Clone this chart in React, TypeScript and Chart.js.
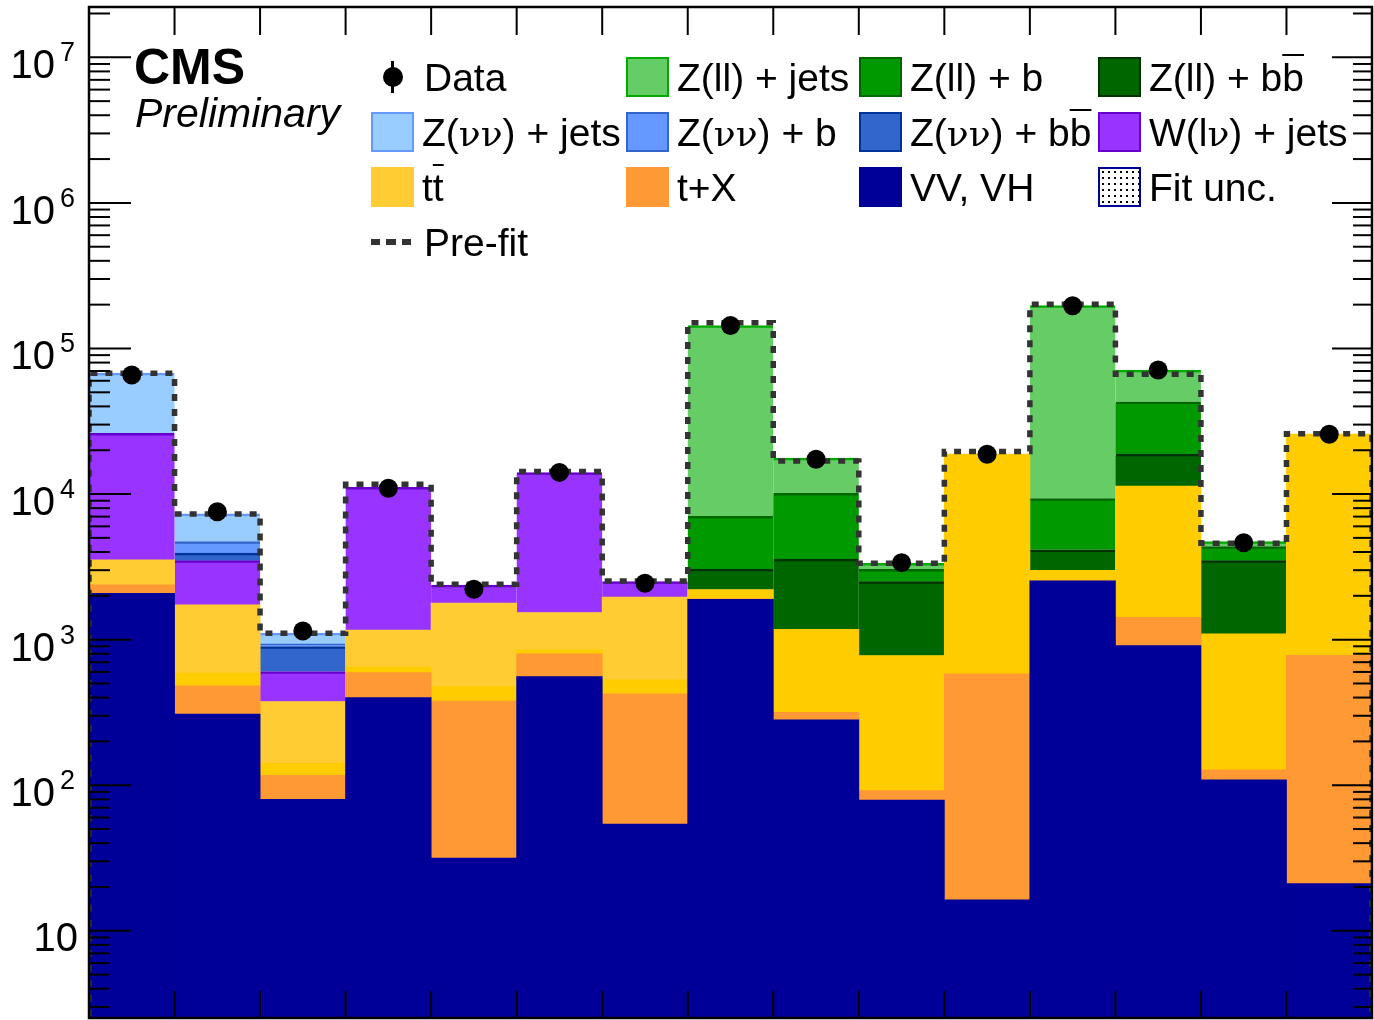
import React, { useEffect, useRef } from "react";
import { Chart, registerables } from "chart.js";

Chart.register(...registerables);

// ---------------- data ----------------
const binLabels = ["1", "2", "3", "4", "5", "6", "7", "8", "9", "10", "11", "12", "13", "14", "15"];

const vvVH = [2080, 308, 80, 399, 31.5, 557, 54, 1893, 281, 79, 16.3, 2530, 908, 108.7, 21.1];
const tPlusX = [293, 173, 37, 194, 347, 240, 370, 10, 36, 12.6, 565, 10, 514, 18.7, 759];
const ttDeep = [0, 107, 24, 53, 96, 52, 104, 299, 861, 684, 18250, 446, 9928, 967, 24980];
const ttLight = [1150, 1142, 234, 518, 1303, 682, 1427, 0, 0, 0, 0, 0, 0, 0, 0];
const wlnJets = [22600, 1755, 228, 9956, 594, 12500, 546, 0, 0, 0, 0, 0, 0, 0, 0];
const zvvBB = [0, 435, 293, 0, 0, 0, 0, 0, 0, 0, 0, 0, 0, 0, 0];
const zvvB = [0, 790, 37, 0, 0, 0, 0, 0, 0, 0, 0, 0, 0, 0, 0];
const zvvJets = [41500, 2585, 174, 0, 0, 0, 0, 0, 0, 0, 0, 0, 0, 0, 0];
const zllBB = [0, 0, 0, 0, 0, 0, 0, 849, 2387, 1724, 0, 1154, 7480, 2391, 0];
const zllB = [0, 0, 0, 0, 0, 0, 0, 3960, 6555, 540, 0, 5160, 24170, 865, 0];
const zllJets = [0, 0, 0, 0, 0, 0, 0, 136600, 7500, 303, 0, 187500, 28100, 361, 0];

const dataObs = [65800, 7550, 1146, 10970, 2220, 14090, 2438, 144000, 17340, 3380, 18780, 196800, 71100, 4636, 25760];
const preFit = [67600, 7295, 1107, 11670, 2404, 14260, 2530, 150300, 16870, 3343, 19590, 201400, 66500, 4590, 25940];

const yTickExponents = [1, 2, 3, 4, 5, 6, 7];

// ---------------- styles ----------------
const Y_MIN = 2.518;
const Y_MAX = 2.216e7;
const SANS = '"Liberation Sans", Arial, Helvetica, sans-serif';
const SERIF = '"DejaVu Serif", "Liberation Serif", "Times New Roman", serif';

const C = {
  vv: "#000099",
  tx: "#FF9933",
  ttDeep: "#FFCC00",
  ttLight: "#FFCC33",
  w: "#9933FF",
  wLine: "#6600CC",
  zvvBB: "#3366CC",
  zvvBBLine: "#003399",
  zvvB: "#6699FF",
  zvvBLine: "#3366CC",
  zvvJ: "#99CCFF",
  zvvJLine: "#6699FF",
  zllBB: "#006600",
  zllBBLine: "#003300",
  zllB: "#009900",
  zllBLine: "#006600",
  zllJ: "#66CC66",
  zllJLine: "#00AA00",
};

const stackDefs = [
  { label: "VV, VH", values: vvVH, color: C.vv, line: C.vv, bw: 0 },
  { label: "t+X", values: tPlusX, color: C.tx, line: C.tx, bw: 0 },
  { label: "tt (b)", values: ttDeep, color: C.ttDeep, line: C.ttDeep, bw: 0 },
  { label: "tt", values: ttLight, color: C.ttLight, line: C.ttLight, bw: 0 },
  { label: "W(lv) + jets", values: wlnJets, color: C.w, line: C.wLine, bw: 2.5 },
  { label: "Z(vv) + bb", values: zvvBB, color: C.zvvBB, line: C.zvvBBLine, bw: 2.5 },
  { label: "Z(vv) + b", values: zvvB, color: C.zvvB, line: C.zvvBLine, bw: 2.5 },
  { label: "Z(vv) + jets", values: zvvJets, color: C.zvvJ, line: C.zvvJLine, bw: 2.5 },
  { label: "Z(ll) + bb", values: zllBB, color: C.zllBB, line: C.zllBBLine, bw: 2.5 },
  { label: "Z(ll) + b", values: zllB, color: C.zllB, line: C.zllBLine, bw: 2.5 },
  { label: "Z(ll) + jets", values: zllJets, color: C.zllJ, line: C.zllJLine, bw: 2.5 },
];

// ---------------- axis / frame plugin (ROOT style) ----------------
const rootAxes = {
  id: "rootAxes",
  afterDatasetsDraw(chart: any) {
    const { ctx, chartArea: a, scales } = chart;
    const y = scales.y;
    const xl = scales.xl;
    const seg = (x1: number, y1: number, x2: number, y2: number) => {
      ctx.beginPath();
      ctx.moveTo(x1, y1);
      ctx.lineTo(x2, y2);
      ctx.stroke();
    };
    ctx.save();
    ctx.strokeStyle = "#000";
    ctx.lineWidth = 2;
    for (let e = 0; e <= 8; e++) {
      for (let m = 1; m <= 9; m++) {
        const v = m * Math.pow(10, e);
        if (v < y.min || v > y.max) continue;
        const py = y.getPixelForValue(v);
        const major = m === 1;
        seg(a.left, py, a.left + (major ? 42 : 21), py);
        seg(a.right, py, a.right - (major ? 40 : 19), py);
      }
    }
    for (let i = 1; i < binLabels.length; i++) {
      const px = xl.getPixelForValue(i);
      seg(px, a.top, px, a.top + 28);
      seg(px, a.bottom, px, a.bottom - 27);
    }
    ctx.lineWidth = 2.5;
    ctx.strokeRect(a.left, a.top, a.right - a.left, a.bottom - a.top);

    ctx.fillStyle = "#000";
    ctx.textBaseline = "alphabetic";
    for (const e of yTickExponents) {
      const py = y.getPixelForValue(Math.pow(10, e));
      ctx.font = `40px ${SANS}`;
      ctx.textAlign = "right";
      if (e === 1) {
        ctx.fillText("10", a.left - 11, py + 20);
      } else {
        ctx.fillText("10", a.left - 34, py + 21);
        ctx.font = `27px ${SANS}`;
        ctx.textAlign = "left";
        ctx.fillText(String(e), a.left - 29, py + 4);
      }
    }
    ctx.restore();
  },
};

// ---------------- legend helpers ----------------
const Nu = () => <span style={{ fontFamily: SERIF, fontSize: 36 }}>ν</span>;
const Ob = ({ children }: { children: React.ReactNode }) => (
  <span style={{ textDecoration: "overline", textDecorationThickness: "2px" }}>{children}</span>
);

const LEG_FS = 39;
const rowY = [77, 132, 187, 242];
const colX = [371, 626, 859, 1098];

function Swatch({ x, y, fill, border, dotted }: { x: number; y: number; fill: string; border: string; dotted?: boolean }) {
  return (
    <div
      style={{
        position: "absolute",
        left: x,
        top: y - 20,
        width: 43,
        height: 40,
        boxSizing: "border-box",
        background: fill,
        border: `2px solid ${border}`,
        backgroundImage: dotted ? "radial-gradient(#000 0.9px, transparent 1.2px)" : undefined,
        backgroundSize: dotted ? "6px 6px" : undefined,
      }}
    />
  );
}

function Label({ x, y, children }: { x: number; y: number; children: React.ReactNode }) {
  return (
    <div
      style={{
        position: "absolute",
        left: x,
        top: y - 19,
        fontFamily: SANS,
        fontSize: LEG_FS,
        lineHeight: `${LEG_FS}px`,
        whiteSpace: "nowrap",
        color: "#000",
      }}
    >
      {children}
    </div>
  );
}

function Legend() {
  const tx = (c: number) => colX[c] + 51;
  return (
    <>
      {/* Data marker */}
      <div style={{ position: "absolute", left: 391, top: rowY[0] - 16, width: 3, height: 32, background: "#000" }} />
      <div style={{ position: "absolute", left: 383, top: rowY[0] - 10, width: 20, height: 20, borderRadius: 10, background: "#000" }} />
      <Label x={424} y={rowY[0]}>Data</Label>

      <Swatch x={colX[1]} y={rowY[0]} fill={C.zllJ} border={C.zllJLine} />
      <Label x={tx(1)} y={rowY[0]}>Z(ll) + jets</Label>
      <Swatch x={colX[2]} y={rowY[0]} fill={C.zllB} border={C.zllBLine} />
      <Label x={tx(2)} y={rowY[0]}>Z(ll) + b</Label>
      <Swatch x={colX[3]} y={rowY[0]} fill={C.zllBB} border={C.zllBBLine} />
      <Label x={tx(3)} y={rowY[0]}>Z(ll) + b<Ob>b</Ob></Label>

      <Swatch x={colX[0]} y={rowY[1]} fill={C.zvvJ} border={C.zvvJLine} />
      <Label x={tx(0)} y={rowY[1]}>Z(<Nu /><Nu />) + jets</Label>
      <Swatch x={colX[1]} y={rowY[1]} fill={C.zvvB} border={C.zvvBLine} />
      <Label x={tx(1)} y={rowY[1]}>Z(<Nu /><Nu />) + b</Label>
      <Swatch x={colX[2]} y={rowY[1]} fill={C.zvvBB} border={C.zvvBBLine} />
      <Label x={tx(2)} y={rowY[1]}>Z(<Nu /><Nu />) + b<Ob>b</Ob></Label>
      <Swatch x={colX[3]} y={rowY[1]} fill={C.w} border={C.wLine} />
      <Label x={tx(3)} y={rowY[1]}>W(l<Nu />) + jets</Label>

      <Swatch x={colX[0]} y={rowY[2]} fill={C.ttLight} border={C.ttLight} />
      <Label x={tx(0)} y={rowY[2]}>t<Ob>t</Ob></Label>
      <Swatch x={colX[1]} y={rowY[2]} fill={C.tx} border={C.tx} />
      <Label x={tx(1)} y={rowY[2]}>t+X</Label>
      <Swatch x={colX[2]} y={rowY[2]} fill={C.vv} border={C.vv} />
      <Label x={tx(2)} y={rowY[2]}>VV, VH</Label>
      <Swatch x={colX[3]} y={rowY[2]} fill="#FFFFFF" border={C.vv} dotted />
      <Label x={tx(3)} y={rowY[2]}>Fit unc.</Label>

      <div
        style={{
          position: "absolute",
          left: 371,
          top: rowY[3] - 3,
          width: 40,
          height: 6,
          background: "repeating-linear-gradient(90deg, #333 0 9px, transparent 9px 15.5px)",
        }}
      />
      <Label x={424} y={rowY[3]}>Pre-fit</Label>
    </>
  );
}

export default function App() {
  const canvasRef = useRef<HTMLCanvasElement | null>(null);

  useEffect(() => {
    if (!canvasRef.current) return;
    const cum = binLabels.map(() => 0);
    const barSets = stackDefs.map((d, k) => ({
      type: "bar" as const,
      label: d.label,
      xAxisID: "x",
      yAxisID: "y",
      data: d.values.map((v, i) => {
        const lo = cum[i] > 0 ? cum[i] : Y_MIN / 2;
        const hi = cum[i] + v;
        cum[i] = hi;
        return v > 0 ? [lo, hi] : null;
      }),
      backgroundColor: d.color,
      borderColor: d.line,
      borderWidth: { top: d.bw, right: 0, bottom: 0, left: 0 },
      borderSkipped: false,
      grouped: false,
      barPercentage: 1,
      categoryPercentage: 1,
      inflateAmount: 0.4,
      order: 10 + k,
    }));

    const prefitPts: { x: number; y: number }[] = [{ x: 0, y: Y_MIN / 2 }];
    preFit.forEach((v, i) => {
      prefitPts.push({ x: i, y: v });
      prefitPts.push({ x: i + 1, y: v });
    });
    prefitPts.push({ x: preFit.length, y: Y_MIN / 2 });

    const chart = new Chart(canvasRef.current, {
      type: "bar",
      data: {
        labels: binLabels,
        datasets: [
          ...barSets,
          {
            type: "line" as const,
            label: "Pre-fit",
            xAxisID: "xl",
            yAxisID: "y",
            data: prefitPts,
            borderColor: "#333333",
            borderWidth: 5.5,
            borderDash: [7, 8],
            borderCapStyle: "butt",
            pointRadius: 0,
            fill: false,
            tension: 0,
            order: 2,
          },
          {
            type: "scatter" as const,
            label: "Data",
            xAxisID: "xl",
            yAxisID: "y",
            data: dataObs.map((v, i) => ({ x: i + 0.5, y: v })),
            backgroundColor: "#000",
            borderColor: "#000",
            borderWidth: 0,
            pointRadius: 9.5,
            showLine: false,
            order: 1,
          },
        ] as any,
      },
      options: {
        animation: false,
        responsive: false,
        events: [],
        layout: { autoPadding: false, padding: { left: 89, top: 7, right: 2, bottom: 2 } },
        plugins: { legend: { display: false }, tooltip: { enabled: false } },
        scales: {
          x: { type: "category", display: false, offset: true, grid: { display: false } },
          xl: { type: "linear", display: false, offset: false, min: 0, max: binLabels.length, grid: { offset: false } },
          y: { type: "logarithmic", display: false, min: Y_MIN, max: Y_MAX },
        },
      } as any,
      plugins: [rootAxes],
    });
    return () => chart.destroy();
  }, []);

  return (
    <div style={{ position: "fixed", left: 0, top: 0, width: 1374, height: 1020, background: "#fff", overflow: "hidden" }}>
      <canvas ref={canvasRef} width={1374} height={1020} style={{ position: "absolute", left: 0, top: 0, width: 1374, height: 1020 }} />
      <div style={{ position: "absolute", left: 134, top: 84 - 0.8465 * 50, fontFamily: SANS, fontWeight: "bold", fontSize: 50, lineHeight: "50px" }}>CMS</div>
      <div style={{ position: "absolute", left: 135, top: 128 - 0.8465 * 41, fontFamily: SANS, fontStyle: "italic", fontSize: 41, lineHeight: "41px" }}>Preliminary</div>
      <Legend />
    </div>
  );
}
